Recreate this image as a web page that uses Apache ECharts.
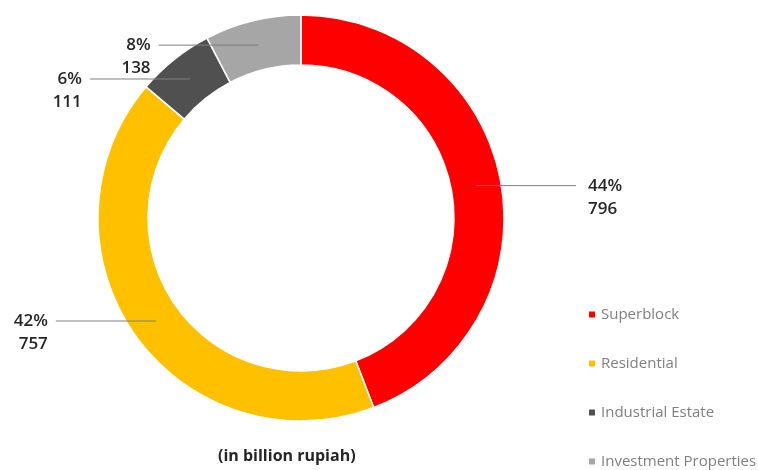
<!DOCTYPE html>
<html>
<head>
<meta charset="utf-8">
<script src="https://cdn.jsdelivr.net/npm/echarts@6/dist/echarts.min.js"></script>
<style>
  html, body { margin: 0; padding: 0; background: #fff; }
  #main { width: 758px; height: 470px; }
</style>
</head>
<body>
<div id="main"></div>
<script>
var categories = ['Superblock', 'Residential', 'Industrial Estate', 'Investment Properties'];
var values = [796, 757, 111, 138];
var percents = ['44%', '42%', '6%', '8%'];
var colors = ['#ff0000', '#ffc000', '#505050', '#a6a6a6'];

var CX = 301, CY = 218;          // donut centre
var R_IN = 153, R_OUT = 203;     // ring radii
var R_MID = (R_IN + R_OUT) / 2;
var LINE_LEN = 100;              // leader line length

var chart = echarts.init(document.getElementById('main'));

var ringData = [];
var labelData = [];
for (var i = 0; i < categories.length; i++) {
    ringData.push({ name: categories[i], value: values[i], itemStyle: { color: colors[i] } });
    labelData.push({ name: categories[i], value: values[i] });
}

var option = {
    animation: false,
    backgroundColor: '#fff',
    title: {
        text: '(in billion rupiah)',
        left: 213,
        top: 443,
        textStyle: { fontFamily: 'Open Sans', fontSize: 16, fontWeight: 'bold', color: '#262626' }
    },
    legend: {
        orient: 'vertical',
        left: 582,
        top: 302,
        height: 200,
        itemWidth: 8,
        itemHeight: 8,
        itemGap: 34,
        icon: 'rect',
        data: categories,
        textStyle: { fontFamily: 'Open Sans', fontSize: 15, color: '#7f7f7f' }
    },
    series: [
        {
            // coloured ring
            type: 'pie',
            center: [CX, CY],
            radius: [R_IN, R_OUT],
            startAngle: 90,
            clockwise: true,
            z: 2,
            label: { show: false },
            labelLine: { show: false },
            itemStyle: { borderColor: '#fff', borderWidth: 1.5 },
            emphasis: { disabled: true },
            data: ringData
        },
        {
            // transparent copy carrying the labels so the leader lines sit on top
            type: 'pie',
            center: [CX, CY],
            radius: [R_IN, R_OUT],
            startAngle: 90,
            clockwise: true,
            z: 5,
            silent: true,
            avoidLabelOverlap: false,
            itemStyle: { color: 'rgba(0,0,0,0)', borderWidth: 0 },
            label: {
                show: true,
                position: 'outside',
                fontFamily: 'Open Sans',
                fontSize: 17,
                fontWeight: 600,
                lineHeight: 23,
                color: '#262626',
                formatter: function (p) {
                    return percents[p.dataIndex] + '\n' + values[p.dataIndex];
                }
            },
            labelLine: {
                show: true,
                length: 10,
                length2: 10,
                lineStyle: { color: '#7f7f7f', width: 1 }
            },
            labelLayout: function (p) {
                var pt = p.labelLinePoints[0];
                var k = R_MID / R_OUT;
                var ix = CX + (pt[0] - CX) * k;
                var iy = CY + (pt[1] - CY) * k;
                var right = ix > CX;
                var ex = right ? ix + LINE_LEN : ix - LINE_LEN;
                return {
                    x: right ? ex + 12 : ex - 8,
                    y: iy - 11,
                    align: right ? 'left' : 'right',
                    verticalAlign: 'top',
                    labelLinePoints: [[ix, iy], [ex, iy]]
                };
            },
            emphasis: { disabled: true },
            data: labelData
        }
    ]
};

chart.setOption(option);
</script>
</body>
</html>
